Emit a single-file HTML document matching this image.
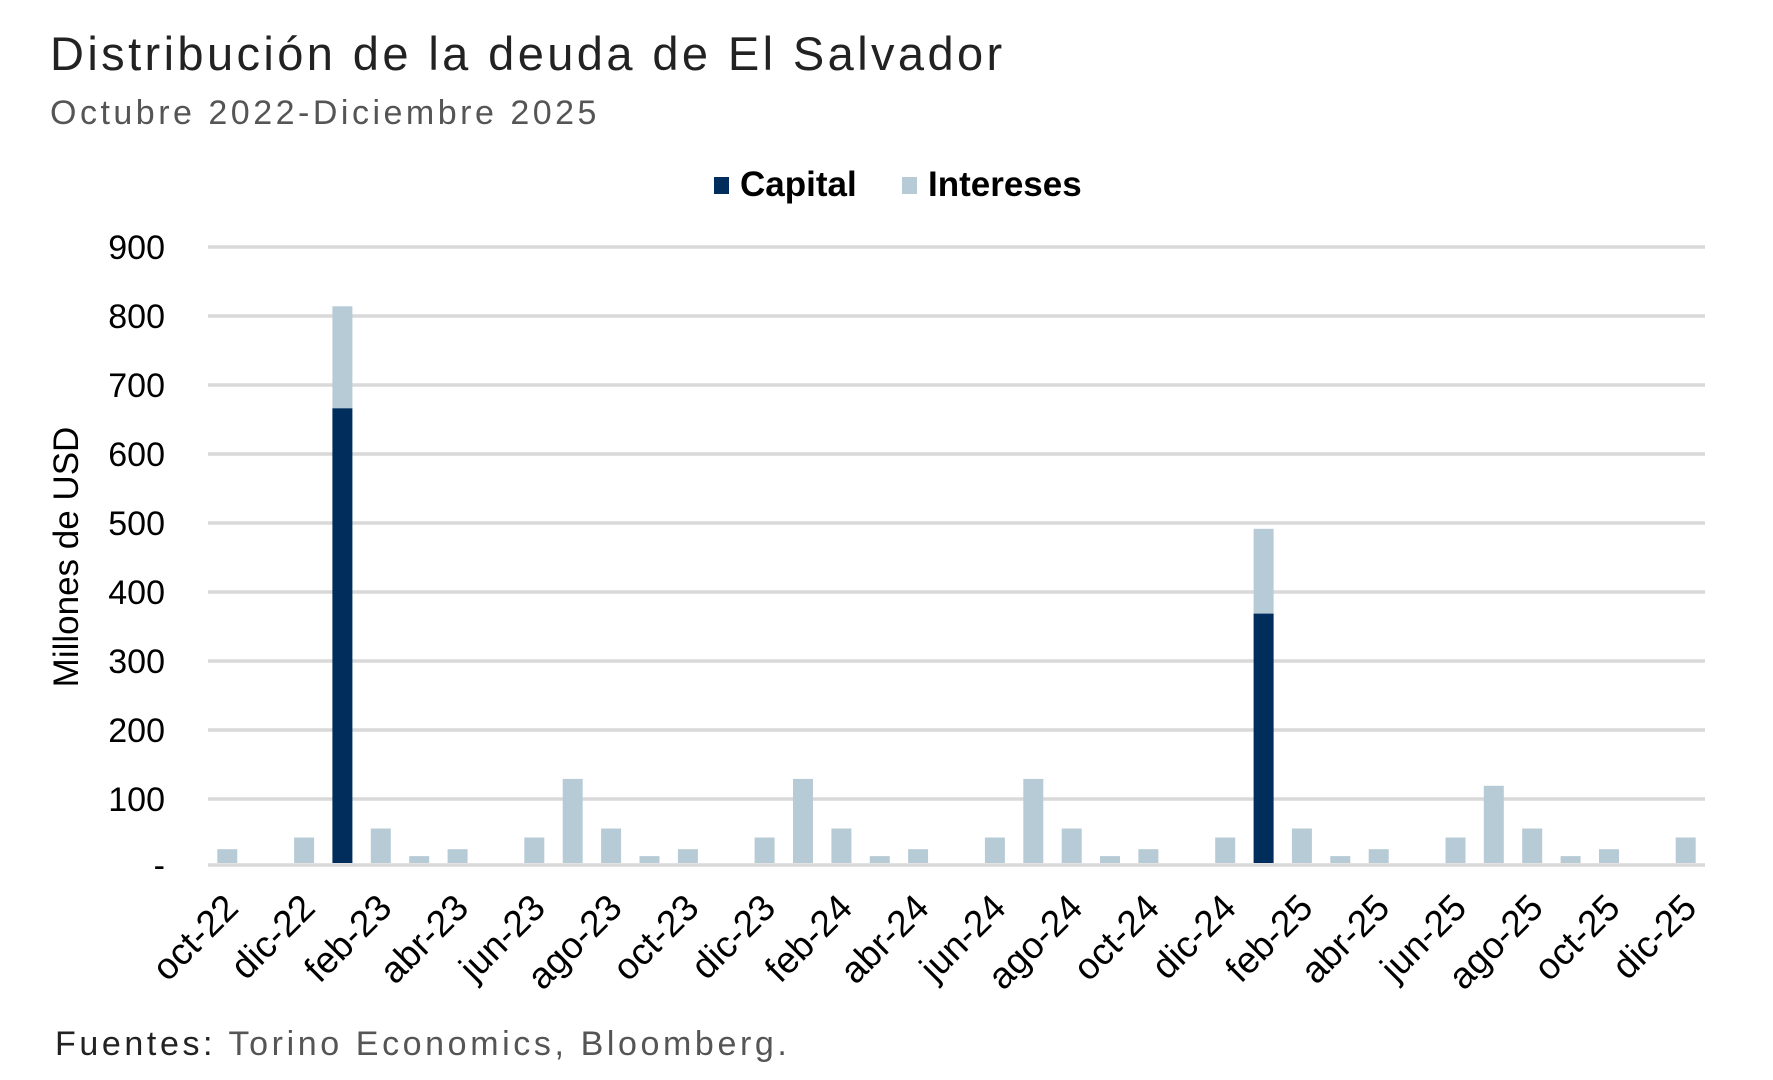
<!DOCTYPE html>
<html><head><meta charset="utf-8"><style>
html,body{margin:0;padding:0;background:#fff;}
svg{display:block;}
</style></head><body>
<svg width="1773" height="1080" xmlns="http://www.w3.org/2000/svg" font-family="Liberation Sans, Arial, sans-serif">
<text x="50" y="70" font-size="47" letter-spacing="3.4" fill="#222">Distribución de la deuda de El Salvador</text>
<text x="50" y="124" font-size="34" letter-spacing="3.5" fill="#555">Octubre 2022-Diciembre 2025</text>
<rect x="714" y="177" width="15" height="17" fill="#002d5c"/>
<text x="740" y="196" font-size="35" font-weight="bold" fill="#000">Capital</text>
<rect x="902" y="177" width="15" height="17" fill="#b7cbd6"/>
<text x="928" y="196" font-size="35" font-weight="bold" fill="#000">Intereses</text>
<g stroke="#d9d9d9" stroke-width="3.5">
<line x1="208" x2="1705" y1="247" y2="247"/>
<line x1="208" x2="1705" y1="316" y2="316"/>
<line x1="208" x2="1705" y1="385" y2="385"/>
<line x1="208" x2="1705" y1="454" y2="454"/>
<line x1="208" x2="1705" y1="523" y2="523"/>
<line x1="208" x2="1705" y1="592" y2="592"/>
<line x1="208" x2="1705" y1="661" y2="661"/>
<line x1="208" x2="1705" y1="730" y2="730"/>
<line x1="208" x2="1705" y1="799" y2="799"/>
<line x1="208" x2="1705" y1="865" y2="865"/>
</g>
<g font-size="34" fill="#000" text-anchor="end">
<text x="165" y="259">900</text>
<text x="165" y="328">800</text>
<text x="165" y="397">700</text>
<text x="165" y="466">600</text>
<text x="165" y="535">500</text>
<text x="165" y="604">400</text>
<text x="165" y="673">300</text>
<text x="165" y="742">200</text>
<text x="165" y="811">100</text>
<text x="165" y="877">-</text>
</g>
<text transform="translate(78,557) rotate(-90)" font-size="35" text-anchor="middle" fill="#000">Millones de USD</text>
<g fill="#b7cbd6">
<rect x="217.3" y="849.2" width="20" height="13.8"/>
<rect x="294.1" y="837.5" width="20" height="25.5"/>
<rect x="332.4" y="306.3" width="20" height="102"/>
<rect x="370.8" y="828.5" width="20" height="34.5"/>
<rect x="409.2" y="856.1" width="20" height="6.9"/>
<rect x="447.6" y="849.2" width="20" height="13.8"/>
<rect x="524.3" y="837.5" width="20" height="25.5"/>
<rect x="562.7" y="778.9" width="20" height="84.1"/>
<rect x="601.1" y="828.5" width="20" height="34.5"/>
<rect x="639.5" y="856.1" width="20" height="6.9"/>
<rect x="677.9" y="849.2" width="20" height="13.8"/>
<rect x="754.6" y="837.5" width="20" height="25.5"/>
<rect x="793.0" y="778.9" width="20" height="84.1"/>
<rect x="831.4" y="828.5" width="20" height="34.5"/>
<rect x="869.8" y="856.1" width="20" height="6.9"/>
<rect x="908.1" y="849.2" width="20" height="13.8"/>
<rect x="984.9" y="837.5" width="20" height="25.5"/>
<rect x="1023.3" y="778.9" width="20" height="84.1"/>
<rect x="1061.7" y="828.5" width="20" height="34.5"/>
<rect x="1100.0" y="856.1" width="20" height="6.9"/>
<rect x="1138.4" y="849.2" width="20" height="13.8"/>
<rect x="1215.2" y="837.5" width="20" height="25.5"/>
<rect x="1253.6" y="528.8" width="20" height="84.8"/>
<rect x="1291.9" y="828.5" width="20" height="34.5"/>
<rect x="1330.3" y="856.1" width="20" height="6.9"/>
<rect x="1368.7" y="849.2" width="20" height="13.8"/>
<rect x="1445.5" y="837.5" width="20" height="25.5"/>
<rect x="1483.8" y="785.8" width="20" height="77.2"/>
<rect x="1522.2" y="828.5" width="20" height="34.5"/>
<rect x="1560.6" y="856.1" width="20" height="6.9"/>
<rect x="1599.0" y="849.2" width="20" height="13.8"/>
<rect x="1675.7" y="837.5" width="20" height="25.5"/>
</g>
<g fill="#002d5c">
<rect x="332.4" y="408.3" width="20" height="454.7"/>
<rect x="1253.6" y="613.6" width="20" height="249.4"/>
</g>
<g font-size="37" fill="#000" text-anchor="end">
<text transform="translate(240.3,910) rotate(-45)">oct-22</text>
<text transform="translate(317.1,910) rotate(-45)">dic-22</text>
<text transform="translate(393.8,910) rotate(-45)">feb-23</text>
<text transform="translate(470.6,910) rotate(-45)">abr-23</text>
<text transform="translate(547.3,910) rotate(-45)">jun-23</text>
<text transform="translate(624.1,910) rotate(-45)">ago-23</text>
<text transform="translate(700.9,910) rotate(-45)">oct-23</text>
<text transform="translate(777.6,910) rotate(-45)">dic-23</text>
<text transform="translate(854.4,910) rotate(-45)">feb-24</text>
<text transform="translate(931.1,910) rotate(-45)">abr-24</text>
<text transform="translate(1007.9,910) rotate(-45)">jun-24</text>
<text transform="translate(1084.7,910) rotate(-45)">ago-24</text>
<text transform="translate(1161.4,910) rotate(-45)">oct-24</text>
<text transform="translate(1238.2,910) rotate(-45)">dic-24</text>
<text transform="translate(1314.9,910) rotate(-45)">feb-25</text>
<text transform="translate(1391.7,910) rotate(-45)">abr-25</text>
<text transform="translate(1468.5,910) rotate(-45)">jun-25</text>
<text transform="translate(1545.2,910) rotate(-45)">ago-25</text>
<text transform="translate(1622.0,910) rotate(-45)">oct-25</text>
<text transform="translate(1698.7,910) rotate(-45)">dic-25</text>
</g>
<text x="55" y="1055" font-size="34" letter-spacing="3.6" fill="#222">Fuentes:<tspan fill="#555"> Torino Economics, Bloomberg.</tspan></text>
</svg>
</body></html>
